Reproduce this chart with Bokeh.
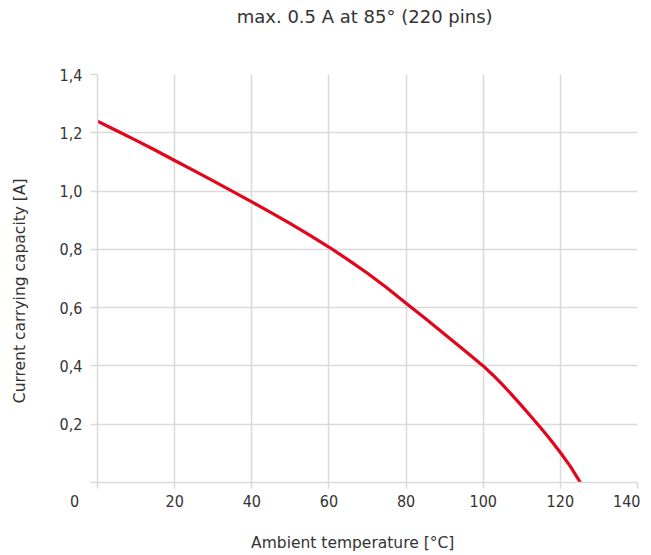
from bokeh.plotting import figure
from bokeh.models import FixedTicker, Range1d, Title
from bokeh.embed import file_html
from bokeh.resources import INLINE

# data
temperature = [0, 5, 10, 15, 20, 25, 30, 35, 40, 45, 50, 55, 60, 65, 70, 75, 80, 85, 90, 95,
               100, 102.5, 105, 107.5, 110, 112.5, 115, 117.5, 120, 122.5, 125.2]
current = [1.24, 1.207, 1.174, 1.14, 1.105, 1.07, 1.035, 0.999, 0.963, 0.926, 0.888, 0.849, 0.808,
           0.764, 0.718, 0.668, 0.615, 0.563, 0.509, 0.455, 0.4, 0.369, 0.336, 0.3, 0.263,
           0.225, 0.186, 0.146, 0.103, 0.057, 0.0]

NBSP = "\u00a0"
x_ticks = [0, 20, 40, 60, 80, 100, 120, 140]
# the origin "0" sits left of the corner in the reference: padded with no-break spaces
x_tick_labels = ["0" + NBSP * 10, "20", "40", "60", "80", "100", "120", "140"]
y_ticks = [0, 0.2, 0.4, 0.6, 0.8, 1.0, 1.2, 1.4]
y_tick_labels = ["", "0,2", "0,4", "0,6", "0,8", "1,0", "1,2", "1,4"]

title_text = "max. 0.5 A  at 85° (220 pins)"
x_title = "Ambient temperature [°C]"
y_title = "Current carrying capacity [A]"

TICK_FONT = "DejaVu Sans Condensed, Roboto, sans-serif"
TITLE_FONT = "DejaVu Sans"
TXT = "#333333"
GRID = "#d9d9d9"

p = figure(width=640, height=554, output_backend="svg", toolbar_location=None,
           x_range=Range1d(0, 140), y_range=Range1d(0, 1.4),
           min_border_left=97, min_border_right=3, min_border_top=74, min_border_bottom=70)
p.outline_line_color = None
p.background_fill_color = "white"
p.title.text = ""

# spacer (nearest the frame) then the real title above it
p.add_layout(Title(text=NBSP, text_font_size="40px", standoff=0), "above")
p.add_layout(Title(text=title_text, align="center", text_font=TITLE_FONT,
                   text_font_size="18px", text_color=TXT, text_font_style="normal",
                   standoff=4), "above")

p.xaxis.ticker = FixedTicker(ticks=x_ticks)
p.yaxis.ticker = FixedTicker(ticks=y_ticks)
p.xaxis.major_label_overrides = {t: l for t, l in zip(x_ticks, x_tick_labels)}
p.yaxis.major_label_overrides = {t: l for t, l in zip(y_ticks, y_tick_labels)}

for ax in (p.xaxis[0], p.yaxis[0]):
    ax.axis_line_color = GRID
    ax.axis_line_width = 1.5
    ax.major_tick_line_color = GRID
    ax.major_tick_line_width = 1.5
    ax.major_tick_in = 0
    ax.minor_tick_line_color = None
    ax.major_label_text_font = TICK_FONT
    ax.major_label_text_font_size = "16px"
    ax.major_label_text_color = TXT
    ax.axis_label_text_font = TITLE_FONT
    ax.axis_label_text_font_size = "15.5px"
    ax.axis_label_text_color = TXT
    ax.axis_label_text_font_style = "normal"

p.xaxis.major_tick_out = 6
p.xaxis.major_label_standoff = 3
p.xaxis.axis_label = x_title + NBSP * 6
p.xaxis.axis_label_standoff = 20

p.yaxis.major_tick_out = 7
p.yaxis.major_label_standoff = 8
p.yaxis.axis_label = y_title + NBSP * 5
p.yaxis.axis_label_standoff = 28

p.xgrid.grid_line_color = GRID
p.ygrid.grid_line_color = GRID
p.xgrid.grid_line_width = 1.5
p.ygrid.grid_line_width = 1.5

p.line(temperature, current, line_color="#e3051b", line_width=3.2, line_join="round")

open("out.html", "w").write(file_html(p, INLINE))
